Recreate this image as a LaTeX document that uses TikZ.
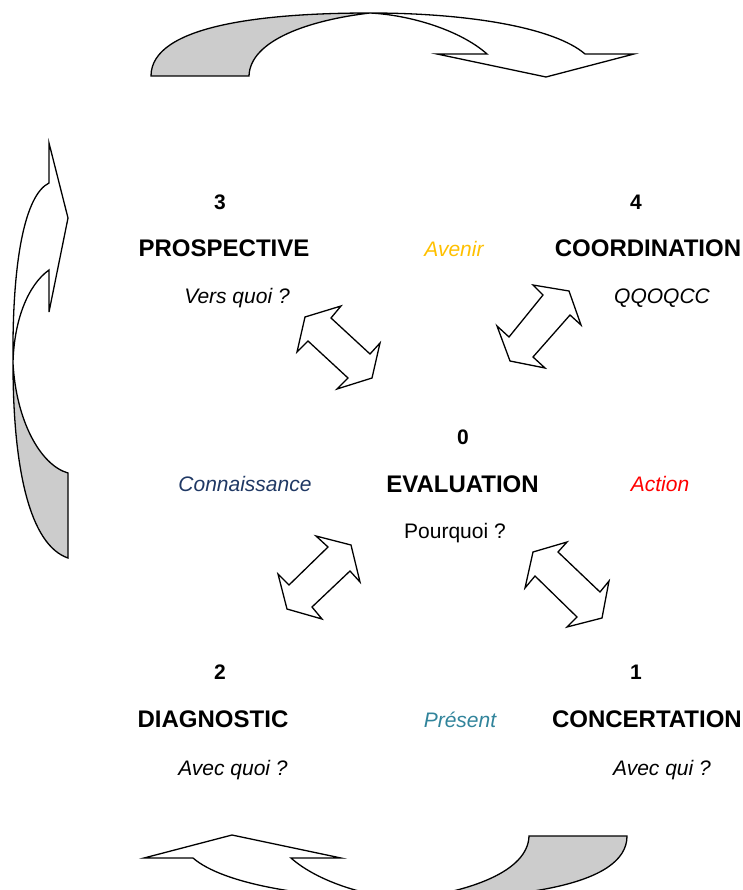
\documentclass[tikz,border=0pt]{standalone}
\usepackage{fontspec}
\setmainfont{Liberation Sans}
\usetikzlibrary{positioning}

\definecolor{avenircol}{HTML}{FFC000}
\definecolor{savoircol}{HTML}{1F3864}
\definecolor{presentcol}{HTML}{31849B}
\definecolor{backcol}{HTML}{CCCCCC}

\tikzset{
  title/.style={font=\fontsize{24}{28}\selectfont\bfseries, anchor=base, inner sep=0pt},
  num/.style={font=\fontsize{21}{25}\selectfont\bfseries, anchor=base, inner sep=0pt},
  note/.style={font=\fontsize{21}{25}\selectfont\itshape, anchor=base, inner sep=0pt},
  plain/.style={font=\fontsize{21}{25}\selectfont, anchor=base, inner sep=0pt},
  outline/.style={draw=black, line width=1.3pt, line join=miter, fill=white},
  backside/.style={outline, fill=backcol}
}

% curved band arrow, drawn at the top of the page
\newcommand{\bentarrow}{%
  \draw[outline] (370,13) .. controls (470,13) and (555,28) .. (585,54) -- (634,54)
    -- (546,77) -- (437,54) -- (487,54) .. controls (460,30) and (410,15) .. (370,13) -- cycle;
  \draw[backside] (151,76) .. controls (151,25) and (265,13) .. (370,13)
    .. controls (310,20) and (250,40) .. (249,76) -- cycle;
}

\begin{document}
\begin{tikzpicture}[x=1pt,y=-1pt]
  \useasboundingbox (0,0) rectangle (743,890);
  \clip (0,0) rectangle (743,890);

  % cycle arrows
  \bentarrow
  \begin{scope}[rotate around={180:(389,456)}]
    \bentarrow
  \end{scope}
  \draw[outline] (13,363) .. controls (12,260) and (25,195) .. (49,183) -- (49,143) -- (68,218)
    -- (49,312) -- (49,270) .. controls (28,285) and (14,320) .. (13,363) -- cycle;
  \draw[backside] (13,363) .. controls (16,420) and (40,465) .. (68,473) -- (68,558)
    .. controls (30,545) and (13,470) .. (13,363) -- cycle;

  % double arrows towards the centre
  \draw[outline] (331,318) -- (341,306) -- (305,317) -- (297,352) -- (308,341) -- (348,378)
    -- (337,389) -- (372,378) -- (380,343) -- (370,354) -- cycle;
  \draw[outline] (543,295) -- (533,285) -- (569,291) -- (581,325) -- (570,315) -- (533,357)
    -- (545,368) -- (510,361) -- (497,326) -- (509,337) -- cycle;
  \draw[outline] (328,547) -- (316,536) -- (351,545) -- (360,582) -- (350,571) -- (312,607)
    -- (322,619) -- (287,609) -- (278,574) -- (289,585) -- cycle;
  \draw[outline] (558,552) -- (567,542) -- (533,552) -- (525,588) -- (535,576) -- (577,617)
    -- (567,627) -- (602,618) -- (609,581) -- (600,592) -- cycle;

  % 3
  \node[num]   (n3)    at (220,209.5) {3};
  \node[title] (prosp) at (224,256.6) {PROSPECTIVE};
  \node[note]  (q3)    at (237,303.5) {Vers quoi ?};
  % 4
  \node[num]   (n4)    at (636,209.5) {4};
  \node[title] (coord) at (648,256.6) {COORDINATION};
  \node[note]  (q4)    at (662,303.5) {QQOQCC};
  \node[note, text=avenircol] (avenir) at (454,256.5) {Avenir};
  % 0
  \node[num]   (n0)    at (463,444.5) {0};
  \node[title] (eval)  at (462.5,492.6) {EVALUATION};
  \node[plain] (q0)    at (455,538.5) {Pourquoi ?};
  \node[note, text=savoircol] (savoir) at (245,491.5) {Connaissance};
  \node[note, text=red]       (action) at (660,491.5) {Action};
  % 2
  \node[num]   (n2)    at (220,679.5) {2};
  \node[title] (diag)  at (213,727.6) {DIAGNOSTIC};
  \node[note]  (q2)    at (233,775.5) {Avec quoi ?};
  % 1
  \node[num]   (n1)    at (636,679.5) {1};
  \node[title, anchor=base east] (concert) at (742,727.6) {CONCERTATION};
  \node[note]  (q1)    at (662,775.5) {Avec qui ?};
  \node[note, text=presentcol] (present) at (460,727.5) {Présent};
\end{tikzpicture}
\end{document}
